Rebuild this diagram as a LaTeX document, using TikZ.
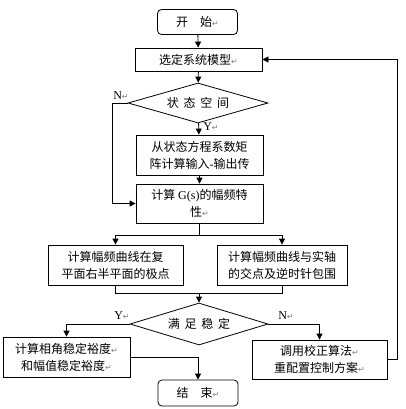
\documentclass[tikz,border=0pt]{standalone}
\usepackage{fontspec}
\setmainfont{Noto Sans CJK SC}
\newfontfamily\lat{Liberation Serif}
\newfontfamily\symfont{DejaVu Sans}
\usepackage{tikz}
\usetikzlibrary{positioning, shapes, arrows.meta, calc}
\newcommand{\parmark}{{\symfont\color{gray}\fontsize{8}{8}\selectfont ↵}}

\begin{document}
\begin{tikzpicture}[x=1pt, y=-1pt,
    every node/.style={font=\fontsize{12}{17}\selectfont},
    box/.style={draw, thick, rectangle, align=center, inner sep=2pt},
    term/.style={box, rounded corners=4pt, minimum width=80pt, minimum height=25pt},
    cond/.style={draw, thick, diamond, aspect=3.4, inner sep=0pt},
    arr/.style={thick, -{Triangle[length=6pt, width=6pt]}},
    lbl/.style={font=\lat\fontsize{12}{12}\selectfont}]
      \useasboundingbox (0,0) rectangle (405,409);

      \node[term] (start) at (197.5, 22) {开\quad 始\parmark};
      \node[box, minimum width=127pt, minimum height=23pt] (model) at (198.5, 59.5) {选定系统模型\parmark};
      \node[cond, minimum width=140pt, minimum height=40pt] (ss) at (198, 103) {状\, 态\, 空\, 间};
      \node[box, minimum width=127pt, minimum height=40pt] (tf) at (199.5, 155) {从状态方程系数矩\\阵计算输入{\lat -}输出传};
      \node[box, minimum width=127pt, minimum height=39pt] (gs) at (199.5, 203.5) {计算 {\lat G(s)}的幅频特\\性\parmark};
      \node[box, minimum width=135pt, minimum height=40pt] (poles) at (115.5, 265) {计算幅频曲线在复\\平面右半平面的极点};
      \node[box, minimum width=130pt, minimum height=40pt] (encl) at (282, 265) {计算幅频曲线与实轴\\的交点及逆时针包围};
      \node[cond, minimum width=138pt, minimum height=42pt] (ok) at (199, 324) {满\, 足\, 稳\, 定};
      \node[box, minimum width=127pt, minimum height=40pt] (margin) at (66.5, 357) {计算相角稳定裕度\parmark\\和幅值稳定裕度\parmark};
      \node[box, minimum width=135pt, minimum height=39pt] (redo) at (319.5, 359.5) {调用校正算法\parmark\\重配置控制方案\parmark};
      \node[term, minimum height=26pt] (stop) at (198, 393) {结\quad 束\parmark};

      \coordinate (nx) at (112, 0);
      \coordinate (rx) at (397, 0);
      \coordinate (split) at (0, 235);
      \coordinate (merge) at (0, 293);

      \draw[arr] (start) -- (model);
      \draw[arr] (model) -- (ss);
      \draw[arr] (ss) -- (tf);
      \draw[arr] (tf) -- (gs);
      \draw[arr] (ss.west) -- (ss.west -| nx) |- (gs.west);
      \draw[thick] (gs.south) -- (gs.south |- split);
      \draw[thick] (poles.north |- split) -- (encl.north |- split);
      \draw[arr] (poles.north |- split) -- (poles.north);
      \draw[arr] (encl.north |- split) -- (encl.north);
      \draw[thick] (poles.south) -- (poles.south |- merge) -- (encl.south |- merge) -- (encl.south);
      \draw[arr] (ok.north |- merge) -- (ok.north);
      \draw[arr] (ok.west) -| (margin.north);
      \draw[arr] (ok.east) -| (redo.north);
      \draw[arr] (margin.east) -| (stop.north);
      \draw[arr] (redo.east) -- (redo.east -| rx) |- (model.east);

      \node[lbl] (ssno) at (121, 96) {N\parmark};
      \node[lbl] (ssyes) at (211, 127) {Y\parmark};
      \node[lbl] (okyes) at (122, 316) {Y\parmark};
      \node[lbl] (okno) at (286, 316) {N\parmark};
    \end{tikzpicture}
\end{document}
